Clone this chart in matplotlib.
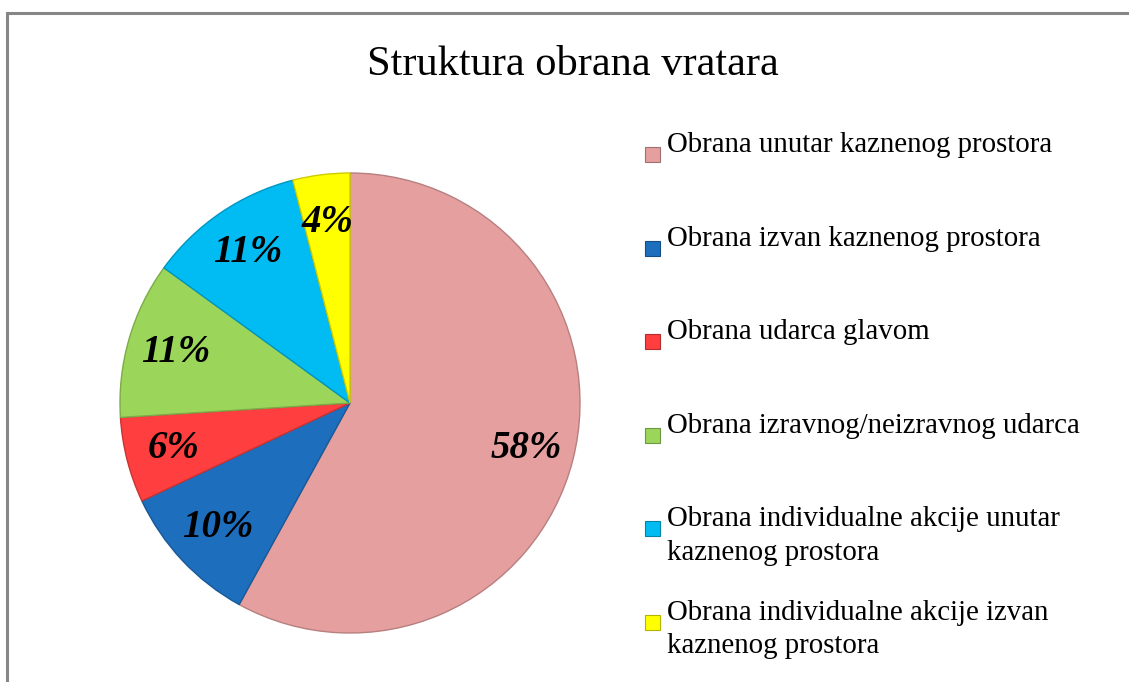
import matplotlib.pyplot as plt
from matplotlib.patches import Rectangle
from matplotlib.colors import to_rgb

categories = [
    "Obrana unutar kaznenog prostora",
    "Obrana izvan kaznenog prostora",
    "Obrana udarca glavom",
    "Obrana izravnog/neizravnog udarca",
    "Obrana individualne akcije unutar\nkaznenog prostora",
    "Obrana individualne akcije izvan\nkaznenog prostora",
]
shares = [58, 10, 6, 11, 11, 4]
colors = ["#E59F9F", "#1E6EBE", "#FF3F3F", "#9BD65A", "#00BCF2", "#FFFF00"]

W, H = 1129, 682
plt.rcParams["font.family"] = ["Liberation Serif", "DejaVu Serif"]


def darker(c, f=0.7):
    r, g, b = to_rgb(c)
    return (r * f, g * f, b * f)


fig = plt.figure(figsize=(W / 100, H / 100), dpi=100)

# outer gray frame (runs off the right/bottom edge like the source)
fig.patches.append(Rectangle((7 / W, -0.05), 1.2, (H - 13) / H + 0.05,
                             transform=fig.transFigure, fill=False,
                             edgecolor="#868686", linewidth=2.2))

fig.text(573 / W, 1 - 75 / H, "Struktura obrana vratara", ha="center",
         va="baseline", fontsize=30.5)

# pie: centre (350, 403) px, radius 230 px
cx, cy, r = 350, 403, 230
ax = fig.add_axes([(cx - r) / W, (H - cy - r) / H, 2 * r / W, 2 * r / H])
wedges, _, autotexts = ax.pie(
    shares, colors=colors, startangle=90, counterclock=False,
    autopct="%d%%", pctdistance=0.79,
    wedgeprops=dict(linewidth=1.0),
    textprops=dict(fontsize=28, fontweight="bold", fontstyle="italic"),
)
for w, c in zip(wedges, colors):
    w.set_edgecolor(darker(c, 0.8))
ax.set_xlim(-1.0, 1.0)
ax.set_ylim(-1.0, 1.0)
ax.axis("off")

# legend, drawn by hand so the swatch sits beside the first line
for i, (lab, c) in enumerate(zip(categories, colors)):
    base = 152 + 93.6 * i
    fig.patches.append(Rectangle((645 / W, 1 - (base + 10) / H), 15 / W, 15 / H,
                                 transform=fig.transFigure, facecolor=c,
                                 edgecolor=darker(c, 0.7), linewidth=0.8))
    for k, line in enumerate(lab.split("\n")):
        fig.text(667 / W, 1 - (base + 33.3 * k) / H, line, ha="left",
                 va="baseline", fontsize=20.75)

fig.savefig("out.png", dpi=100)
